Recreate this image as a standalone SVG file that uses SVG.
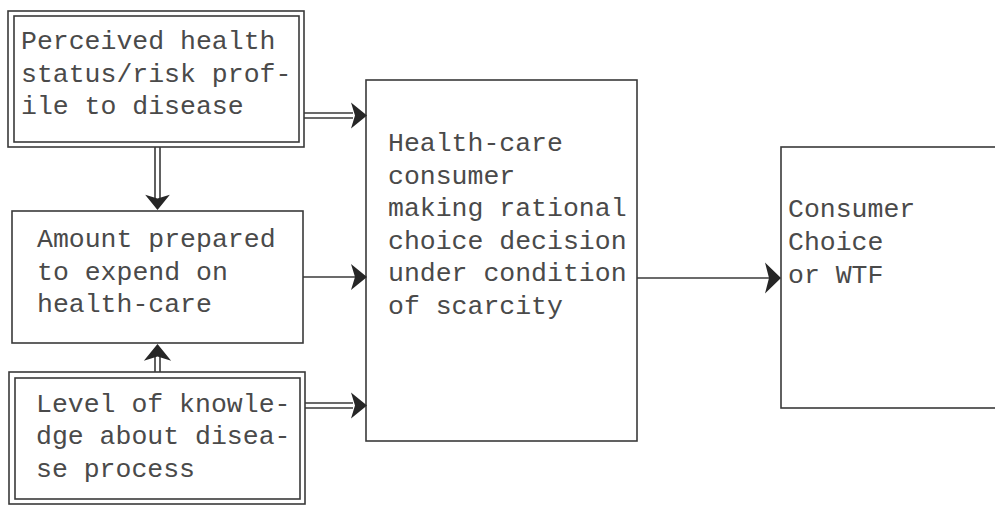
<svg xmlns="http://www.w3.org/2000/svg" width="995" height="505" viewBox="0 0 995 505">
<style>
.box{fill:none;stroke:#3a3a3a;stroke-width:1.6}
.ln{fill:none;stroke:#3a3a3a;stroke-width:1.6}
.ah{fill:#262626}
text{font-family:"Liberation Mono","DejaVu Sans Mono",monospace;font-size:26.5px;fill:#4a4a4a}
</style>
<defs>
<path id="ahr" d="M0,0 L-16,-13 L-12,0 L-16,13 Z"/>
</defs>
<rect width="995" height="505" fill="#ffffff"/>
<g id="node-perceived">
<rect class="box" x="8" y="11" width="296" height="136"/>
<rect class="box" x="14" y="16" width="285" height="126"/>
<text x="21" y="49">Perceived health</text>
<text x="21" y="81.5">status/risk prof-</text>
<text x="21" y="114">ile to disease</text>
</g>
<g id="node-amount">
<rect class="box" x="12" y="211" width="291" height="132"/>
<text x="37" y="247">Amount prepared</text>
<text x="37" y="280">to expend on</text>
<text x="37" y="312">health-care</text>
</g>
<g id="node-knowledge">
<rect class="box" x="9" y="372" width="296" height="132"/>
<rect class="box" x="15" y="378" width="285" height="121"/>
<text x="36" y="412">Level of knowle-</text>
<text x="36" y="444">dge about disea-</text>
<text x="36" y="477">se process</text>
</g>
<g id="node-consumer">
<rect class="box" x="366" y="80" width="271" height="361"/>
<text x="388" y="151">Health-care</text>
<text x="388" y="184">consumer</text>
<text x="388" y="216">making rational</text>
<text x="388" y="249">choice decision</text>
<text x="388" y="281">under condition</text>
<text x="388" y="314">of scarcity</text>
</g>
<g id="node-choice">
<rect class="box" x="781" y="147" width="230" height="261"/>
<text x="788" y="217">Consumer</text>
<text x="788" y="250">Choice</text>
<text x="788" y="283">or WTF</text>
</g>
<g id="connectors">
<path class="ln" d="M304,113 H353 M304,118 H353"/>
<use href="#ahr" class="ah" transform="translate(367,115.5)"/>
<path class="ln" d="M303,277 H356"/>
<use href="#ahr" class="ah" transform="translate(367,277)"/>
<path class="ln" d="M305,403 H353 M305,408 H353"/>
<use href="#ahr" class="ah" transform="translate(367,405.5)"/>
<path class="ln" d="M155,147 V198 M160,147 V198"/>
<use href="#ahr" class="ah" transform="translate(157.5,210) rotate(90) scale(0.95)"/>
<path class="ln" d="M155,372 V356 M160,372 V356"/>
<use href="#ahr" class="ah" transform="translate(157.5,344) rotate(-90) scale(1.05)"/>
<path class="ln" d="M637,278 H770"/>
<use href="#ahr" class="ah" transform="translate(781,278) scale(1,1.2)"/>
</g>
</svg>
